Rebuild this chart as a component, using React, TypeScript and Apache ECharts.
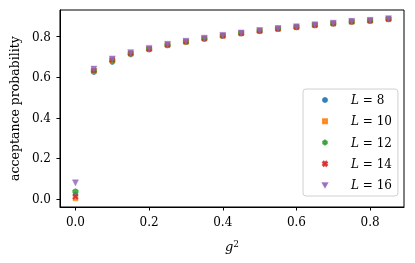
import React, { useEffect, useRef } from "react";
import * as echarts from "echarts";

const gValues = [0, 0.05, 0.1, 0.15, 0.2, 0.25, 0.3, 0.35, 0.4, 0.45, 0.5, 0.55, 0.6, 0.65, 0.7, 0.75, 0.8, 0.85];
const L8 = [0.022, 0.625, 0.675, 0.712, 0.736, 0.757, 0.773, 0.789, 0.803, 0.815, 0.827, 0.837, 0.846, 0.855, 0.863, 0.872, 0.877, 0.885];
const L10 = [0.004, 0.630, 0.682, 0.716, 0.738, 0.758, 0.774, 0.790, 0.804, 0.816, 0.828, 0.838, 0.846, 0.856, 0.864, 0.873, 0.878, 0.886];
const L12 = [0.038, 0.632, 0.684, 0.717, 0.739, 0.759, 0.775, 0.790, 0.805, 0.816, 0.828, 0.839, 0.847, 0.857, 0.865, 0.874, 0.878, 0.887];
const L14 = [0.012, 0.634, 0.686, 0.718, 0.740, 0.760, 0.776, 0.791, 0.805, 0.817, 0.829, 0.839, 0.847, 0.857, 0.865, 0.874, 0.879, 0.887];
const L16 = [0.080, 0.640, 0.690, 0.721, 0.742, 0.762, 0.777, 0.792, 0.806, 0.818, 0.830, 0.840, 0.848, 0.858, 0.866, 0.875, 0.880, 0.888];
const seriesNames = ["L = 8", "L = 10", "L = 12", "L = 14", "L = 16"];
const xTicks = [0, 0.2, 0.4, 0.6, 0.8];
const yTicks = [0, 0.2, 0.4, 0.6, 0.8];

const FONT = "DejaVu Serif";
const colors = ["#1f77b4", "#ff7f0e", "#2ca02c", "#d62728", "#9467bd"];
const hexagon = "path://M0,-1L0.866,-0.5L0.866,0.5L0,1L-0.866,0.5L-0.866,-0.5Z";
const xFilled =
  "path://M-1,-0.6L-0.6,-1L0,-0.4L0.6,-1L1,-0.6L0.4,0L1,0.6L0.6,1L0,0.4L-0.6,1L-1,0.6L-0.4,0Z";
const triDown = "path://M-1,-0.9L1,-0.9L0,0.9Z";
const symbols = ["circle", "rect", hexagon, xFilled, triDown];
const sizes = [5, 5, 5.5, 5.5, 6];

export default function App() {
  const ref = useRef<HTMLDivElement>(null);
  useEffect(() => {
    if (!ref.current) return;
    const chart = echarts.init(ref.current, null, { renderer: "svg" });
    const all = [L8, L10, L12, L14, L16];
    const series = all.map((vals, i) => ({
      name: seriesNames[i],
      type: "scatter",
      data: gValues.map((g, j) => [g, vals[j]]),
      symbol: symbols[i],
      symbolSize: sizes[i],
      itemStyle: { color: colors[i], opacity: 0.85, borderColor: colors[i], borderWidth: 0.5 },
    }));
    const rich = {
      i: { fontFamily: FONT, fontStyle: "italic", fontSize: 12, color: "#000" },
      n: { fontFamily: FONT, fontSize: 12, color: "#000" },
    };
    chart.setOption({
      animation: false,
      grid: { left: 58, right: 11, top: 10, bottom: 56, show: true, borderColor: "#000", borderWidth: 1, backgroundColor: "transparent" },
      xAxis: {
        type: "value",
        min: -0.042,
        max: 0.892,
        name: "{i|g}{s|2}",
        nameLocation: "middle",
        nameGap: 32,
        nameTextStyle: {
          rich: {
            i: { fontFamily: FONT, fontStyle: "italic", fontSize: 13, color: "#000" },
            s: { fontFamily: FONT, fontSize: 9, color: "#000", verticalAlign: "top", padding: [0, 0, 6, 0] },
          },
        },
        axisLine: { show: true, onZero: false, lineStyle: { color: "#000", width: 1 } },
        axisTick: { show: true, customValues: xTicks, length: 3.5, inside: false, lineStyle: { color: "#000" } },
        axisLabel: { customValues: xTicks, margin: 9, fontFamily: FONT, fontSize: 12, color: "#000", formatter: (v: number) => v.toFixed(1) },
        splitLine: { show: false },
      },
      yAxis: {
        type: "value",
        min: -0.039,
        max: 0.931,
        name: "acceptance probability",
        nameLocation: "middle",
        nameGap: 34,
        nameTextStyle: { fontFamily: FONT, fontSize: 12.5, color: "#000" },
        axisLine: { show: true, onZero: false, lineStyle: { color: "#000", width: 1 } },
        axisTick: { show: true, customValues: yTicks, length: 3.5, lineStyle: { color: "#000" } },
        axisLabel: { customValues: yTicks, margin: 9, fontFamily: FONT, fontSize: 12, color: "#000", formatter: (v: number) => v.toFixed(1) },
        splitLine: { show: false },
      },
      legend: {
        orient: "vertical",
        left: 303,
        top: 89,
        padding: [4, 6, 4, 19],
        itemWidth: 4,
        itemHeight: 4,
        itemGap: 7.25,
        borderColor: "#d0d0d0",
        borderWidth: 1,
        borderRadius: 3,
        backgroundColor: "rgba(255,255,255,0.8)",
        data: seriesNames.map((n, i) => ({ name: n, icon: symbols[i] })),
        formatter: (name: string) => "{i|L}{n| = " + name.split("= ")[1] + "}",
        textStyle: { fontFamily: FONT, fontSize: 12, lineHeight: 14, padding: [0, 0, 0, 19], rich },
      },
      series,
    });
    return () => chart.dispose();
  }, []);
  return <div ref={ref} style={{ width: 415, height: 263, position: "fixed", left: 0, top: 0 }} />;
}
